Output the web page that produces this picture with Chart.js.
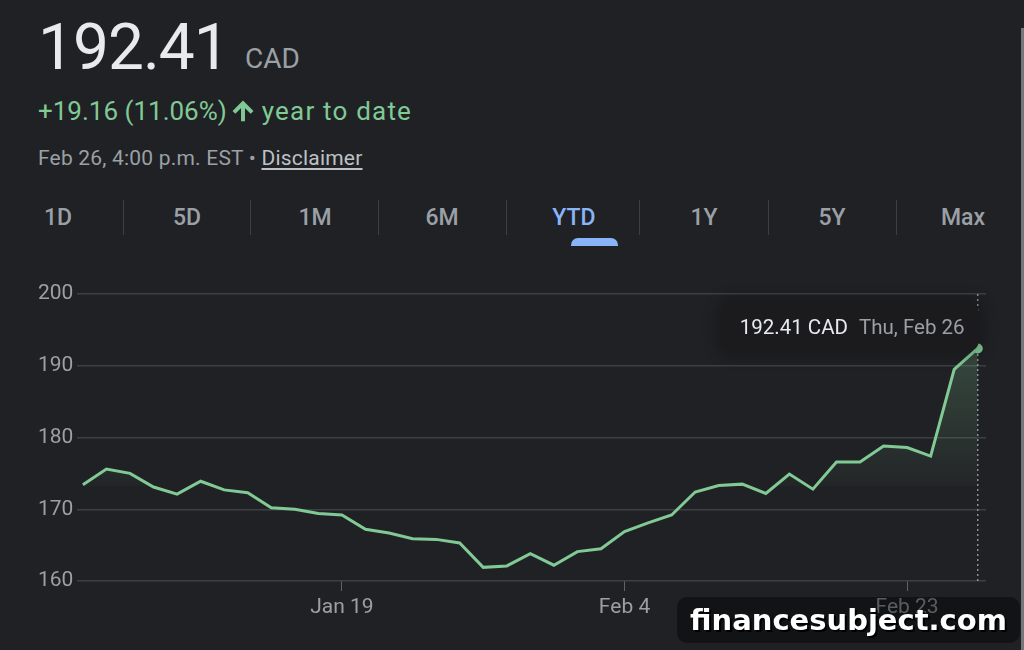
<!DOCTYPE html>
<html lang="en">
<head>
<meta charset="UTF-8">
<title>192.41 CAD - YTD</title>
<script src="https://cdn.jsdelivr.net/npm/chart.js"></script>
<style>
  body { margin:0; width:1024px; height:650px; overflow:hidden; background:#202124; font-family: Roboto, Arial, sans-serif; position:relative; }
  .abs { position:absolute; white-space:nowrap; line-height:1; }
  #price { left:38px; top:16px; font-size:64px; color:#e8eaed; letter-spacing:-1px; }
  #cur { left:245px; top:45px; font-size:28px; color:#9aa0a6; }
  #change { left:38px; top:97px; font-size:26px; color:#81c995; }
  #change .ytd { letter-spacing:1.2px; }
  #change svg { width:28px; height:28px; vertical-align:-5px; margin:0 -2px 0 -4px; fill:#81c995; stroke:#81c995; stroke-width:1.4; }
  #stamp { left:38px; top:148px; font-size:21px; letter-spacing:0.2px; color:#9aa0a6; }
  #stamp u { color:#bdc1c6; text-underline-offset:3px; }
  .tab { position:absolute; top:204px; width:100px; text-align:center; font-size:23px; font-weight:500; color:#9aa0a6; line-height:28px; }
  .tab.on { color:#8ab4f8; }
  .sep { position:absolute; top:200px; width:1px; height:35px; background:#3c4043; }
  #ind { position:absolute; left:571px; top:238px; width:47px; height:8px; background:#8ab4f8; border-radius:7px 7px 0 0; }
  #wrap { position:absolute; left:0; top:250px; width:1024px; height:400px; }
  #tip { position:absolute; top:302px; height:50px; line-height:50px; padding:0 14px 0 18px; background:#1b1b1d; border-radius:12px; font-size:20.5px; box-shadow:0 0 14px 6px rgba(0,0,0,0.22); white-space:nowrap; }
  #tip .v { color:#e8eaed; }
  #tip .d { color:#9aa0a6; margin-left:11px; }
  #strip { position:absolute; left:1021px; top:28px; width:3px; height:622px; background:#75777a; }
  #wm { position:absolute; left:677px; top:597px; width:343px; height:46px; line-height:46px; background:rgba(0,0,0,0.42); border-radius:10px; text-align:center; color:#fff; font-family:"DejaVu Sans", sans-serif; font-weight:bold; font-size:29px; text-shadow:2px 2px 0 #000; }
</style>
</head>
<body>
  <div class="abs" id="price">192.41</div>
  <div class="abs" id="cur">CAD</div>
  <div class="abs" id="change">+19.16 (11.06%) <svg viewBox="0 0 24 24"><path d="M4 12l1.41 1.41L11 7.83V20h2V7.83l5.58 5.59L20 12l-8-8-8 8z"/></svg> <span class="ytd">year to date</span></div>
  <div class="abs" id="stamp">Feb 26, 4:00 p.m. EST • <u>Disclaimer</u></div>

  <div id="tabs"></div>
  <div id="ind"></div>

  <div id="wrap"><canvas id="grafico"></canvas></div>
  <div id="tip"><span class="v">192.41 CAD</span><span class="d">Thu, Feb 26</span></div>
  <div id="strip"></div>
  <div id="wm">financesubject.com</div>

<script>
// trading days, Jan 2 .. Feb 26
const dates = ['Jan 2', 'Jan 5', 'Jan 6', 'Jan 7', 'Jan 8', 'Jan 9',
  'Jan 12', 'Jan 13', 'Jan 14', 'Jan 15', 'Jan 16',
  'Jan 19', 'Jan 20', 'Jan 21', 'Jan 22', 'Jan 23',
  'Jan 26', 'Jan 27', 'Jan 28', 'Jan 29', 'Jan 30',
  'Feb 2', 'Feb 3', 'Feb 4', 'Feb 5', 'Feb 6',
  'Feb 9', 'Feb 10', 'Feb 11', 'Feb 12', 'Feb 13',
  'Feb 17', 'Feb 18', 'Feb 19', 'Feb 20',
  'Feb 23', 'Feb 24', 'Feb 25', 'Feb 26'];

const prices = [173.4, 175.6, 175.0, 173.1, 172.1, 173.9,
  172.7, 172.3, 170.2, 170.0, 169.4,
  169.2, 167.2, 166.7, 165.9, 165.8,
  165.3, 161.9, 162.1, 163.8, 162.2,
  164.1, 164.5, 166.9, 168.1, 169.2,
  172.4, 173.3, 173.5, 172.2, 174.9,
  172.8, 176.6, 176.6, 178.8,
  178.6, 177.4, 189.5, 192.41];

const previousClose = 173.25;
const xTickLabels = ['Jan 19', 'Feb 4', 'Feb 23'];
const yTicks = [160, 170, 180, 190, 200];

const tabNames = ['1D', '5D', '1M', '6M', 'YTD', '1Y', '5Y', 'Max'];
const tabCenters = [58, 187, 315, 442, 574, 704, 832, 963];
const sepX = [123, 250, 378, 506, 639, 768, 896];

// tab row
const tabs = document.getElementById('tabs');
tabNames.forEach((n, i) => {
    const d = document.createElement('div');
    d.className = 'tab' + (n === 'YTD' ? ' on' : '');
    d.style.left = (tabCenters[i] - 50) + 'px';
    d.textContent = n;
    tabs.appendChild(d);
});
sepX.forEach(x => {
    const s = document.createElement('div');
    s.className = 'sep';
    s.style.left = x + 'px';
    tabs.appendChild(s);
});

const green = '#81c995';
const lastIdx = prices.length - 1;

const marcador = {
    id: 'marcador',
    beforeDatasetsDraw(chart) {
        const { ctx, chartArea, scales } = chart;
        const x = scales.x.getPixelForValue(lastIdx);
        ctx.save();
        ctx.strokeStyle = '#9aa0a6';
        ctx.lineWidth = 1.3;
        ctx.setLineDash([2, 3]);
        ctx.beginPath();
        ctx.moveTo(x, chartArea.top);
        ctx.lineTo(x, chartArea.bottom);
        ctx.stroke();
        ctx.restore();
    },
    afterDraw(chart) {
        const x = chart.scales.x.getPixelForValue(lastIdx);
        const tip = document.getElementById('tip');
        tip.style.left = (x + 1 - tip.offsetWidth) + 'px';
        tip.style.top = (250 + chart.chartArea.top + 8) + 'px';
    }
};

const ctx = document.getElementById('grafico').getContext('2d');
new Chart(ctx, {
    type: 'line',
    data: {
        datasets: [{
            data: prices.map((p, i) => ({ x: i, y: p })),
            borderColor: green,
            borderWidth: 3,
            tension: 0,
            pointRadius: (c) => c.dataIndex === lastIdx ? 5 : 0,
            pointBackgroundColor: green,
            pointBorderWidth: 0,
            backgroundColor: (c) => {
                const chart = c.chart;
                const area = chart.chartArea;
                if (!area) return 'transparent';
                const base = chart.scales.y.getPixelForValue(previousClose);
                const g = chart.ctx.createLinearGradient(0, area.top + 40, 0, base);
                g.addColorStop(0, 'rgba(129,201,149,0.26)');
                g.addColorStop(1, 'rgba(129,201,149,0.03)');
                return g;
            },
            fill: { target: { value: previousClose }, below: 'rgba(0,0,0,0)' }
        }]
    },
    options: {
        responsive: true,
        maintainAspectRatio: false,
        animation: false,
        events: [],
        layout: { padding: { left: 38, right: 38, top: 44, bottom: 0 } },
        plugins: { legend: { display: false }, tooltip: { enabled: false } },
        scales: {
            x: {
                type: 'linear',
                min: -0.25,
                max: 38.35,
                afterFit: (s) => { s.height = 69; },
                afterBuildTicks: (s) => { s.ticks = xTickLabels.map(l => ({ value: dates.indexOf(l) })); },
                border: { display: false },
                grid: { drawOnChartArea: false, drawTicks: true, tickLength: 10, color: '#5f6368', lineWidth: 1 },
                ticks: {
                    autoSkip: false, maxRotation: 0, padding: 4,
                    color: '#9aa0a6', font: { family: 'Roboto', size: 21 },
                    callback: (v) => dates[v]
                }
            },
            y: {
                min: 160,
                max: 200,
                afterFit: (s) => { s.width = 39; },
                afterBuildTicks: (s) => { s.ticks = yTicks.map(v => ({ value: v })); },
                border: { display: false },
                grid: { color: '#3c4043', lineWidth: 1.5, drawTicks: false },
                ticks: {
                    crossAlign: 'far', padding: 0,
                    color: '#9aa0a6', font: { family: 'Roboto', size: 21 }
                }
            }
        }
    },
    plugins: [marcador]
});
</script>
</body>
</html>
